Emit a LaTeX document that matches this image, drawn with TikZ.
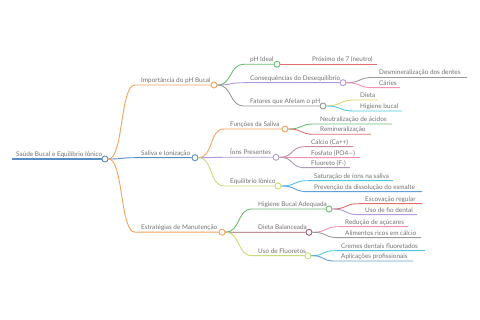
\documentclass[tikz,border=0pt]{standalone}
\usepackage{fontspec}
\setmainfont{Lato}
\definecolor{txtgray}{HTML}{737373}
\definecolor{corange}{HTML}{F4A35E}
\definecolor{cblue}{HTML}{5A8DC6}
\definecolor{cgreen}{HTML}{6DBF6F}
\definecolor{cred}{HTML}{E36F6F}
\definecolor{cpurple}{HTML}{B09AD8}
\definecolor{cgray}{HTML}{9A9A9A}
\definecolor{cpink}{HTML}{F291B4}
\definecolor{cyellow}{HTML}{E4D66C}
\definecolor{ccyan}{HTML}{52C8DE}
\definecolor{cygreen}{HTML}{C7DC7A}
\definecolor{clblue}{HTML}{64A0D8}
\definecolor{cmaroon}{HTML}{A65A68}
\definecolor{cmauve}{HTML}{C98A9E}
\definecolor{cgpurple}{HTML}{A89AB8}
\tikzset{
  lbl/.style={anchor=base west, inner sep=0pt, text=txtgray, font=\fontsize{6.4}{7.5}\selectfont},
  dot/.style={circle, draw=#1, fill=white, line width=0.9pt, minimum size=6pt, inner sep=0pt},
  br/.style={line width=0.9pt, draw=#1},
  cv/.style={to path={.. controls +(15,0) and +(-15,0) .. (\tikztotarget)}},
}
\begin{document}
\begin{tikzpicture}[x=1pt,y=-1pt]
\useasboundingbox[fill=white] (0,0) rectangle (480,320);
% root
\node[lbl] (r) at (16,156.3) {Saúde Bucal e Equilíbrio Iônico};
\coordinate (rs) at (12,159);
\node[dot=cblue] (rc) at (105,159) {};
\draw[br=cblue, line width=1.3pt] (rs) -- (rc.west);
% level 1
\node[lbl] (A) at (141,82.5) {Importância do pH Bucal};
\coordinate (As) at (135,85);
\node[dot=corange] (Ac) at (214,85) {};
\node[lbl] (B) at (141,155.2) {Saliva e Ionização};
\coordinate (Bs) at (135,157.7);
\node[dot=cblue] (Bc) at (195,157.7) {};
\node[lbl] (C) at (141,229.7) {Estratégias de Manutenção};
\coordinate (Cs) at (135,232.2);
\node[dot=corange] (Cc) at (222,232.2) {};
\draw[br=corange] (rc.east) to[cv] (As) -- (Ac.west);
\draw[br=cblue] (rc.east) to[cv] (Bs) -- (Bc.west);
\draw[br=corange] (rc.east) to[cv] (Cs) -- (Cc.west);
% level 2 under A
\node[lbl] (A1) at (250,61.8) {pH Ideal};
\coordinate (A1s) at (244,64.3);
\node[dot=cgreen] (A1c) at (277,64.3) {};
\node[lbl] (A2) at (250,80.2) {Consequências do Desequilíbrio};
\coordinate (A2s) at (244,82.7);
\node[dot=cpurple] (A2c) at (343,82.7) {};
\node[lbl] (A3) at (250,103.5) {Fatores que Afetam o pH};
\coordinate (A3s) at (244,106);
\node[dot=cgray] (A3c) at (323,106) {};
\draw[br=cgreen] (Ac.east) to[cv] (A1s) -- (A1c.west);
\draw[br=cpurple] (Ac.east) to[cv] (A2s) -- (A2c.west);
\draw[br=cgray] (Ac.east) to[cv] (A3s) -- (A3c.west);
% level 3 under A
\node[lbl] (A1a) at (312,61.8) {Próximo de 7 (neutro)};
\coordinate (A1as) at (305,64.3); \coordinate (A1ae) at (377,64.3);
\draw[br=cred] (A1c.east) to[cv] (A1as) -- (A1ae);
\node[lbl] (A2a) at (379,75) {Desmineralização dos dentes};
\coordinate (A2as) at (373,77.5); \coordinate (A2ae) at (467,77.5);
\draw[br=cgray] (A2c.east) to[cv] (A2as) -- (A2ae);
\node[lbl] (A2b) at (379,85.2) {Cáries};
\coordinate (A2bs) at (373,87.7); \coordinate (A2be) at (400,87.7);
\draw[br=cpink] (A2c.east) to[cv] (A2bs) -- (A2be);
\node[lbl] (A3a) at (360,97.5) {Dieta};
\coordinate (A3as) at (354,100); \coordinate (A3ae) at (378,100);
\draw[br=cyellow] (A3c.east) to[cv] (A3as) -- (A3ae);
\node[lbl] (A3b) at (360,108.5) {Higiene bucal};
\coordinate (A3bs) at (354,111); \coordinate (A3be) at (402,111);
\draw[br=ccyan] (A3c.east) to[cv] (A3bs) -- (A3be);
% level 2 under B
\node[lbl] (B1) at (230,126.5) {Funções da Saliva};
\coordinate (B1s) at (224,129);
\node[dot=corange] (B1c) at (285,129) {};
\node[lbl] (B2) at (230,154.8) {Íons Presentes};
\coordinate (B2s) at (224,157.3);
\node[dot=cpurple] (B2c) at (276,157.3) {};
\node[lbl] (B3) at (230,183.5) {Equilíbrio Iônico};
\coordinate (B3s) at (224,186);
\node[dot=cygreen] (B3c) at (278,186) {};
\draw[br=corange] (Bc.east) to[cv] (B1s) -- (B1c.west);
\draw[br=cpurple] (Bc.east) to[cv] (B2s) -- (B2c.west);
\draw[br=cygreen] (Bc.east) to[cv] (B3s) -- (B3c.west);
% level 3 under B
\node[lbl] (B1a) at (320,121.5) {Neutralização de ácidos};
\coordinate (B1as) at (314,124); \coordinate (B1ae) at (392,124);
\draw[br=cgreen] (B1c.east) to[cv] (B1as) -- (B1ae);
\node[lbl] (B1b) at (320,131.8) {Remineralização};
\coordinate (B1bs) at (314,134.3); \coordinate (B1be) at (371,134.3);
\draw[br=cred] (B1c.east) to[cv] (B1bs) -- (B1be);
\node[lbl] (B2a) at (311,144.2) {Cálcio (Ca++)};
\coordinate (B2as) at (305,146.7); \coordinate (B2ae) at (353,146.7);
\draw[br=cmauve] (B2c.east) to[cv] (B2as) -- (B2ae);
\node[lbl] (B2b) at (311,155.2) {Fosfato (PO4---)};
\coordinate (B2bs) at (305,157.7); \coordinate (B2be) at (360,157.7);
\draw[br=cpink] (B2c.east) to[cv] (B2bs) -- (B2be);
\node[lbl] (B2c2) at (311,165.2) {Fluoreto (F-)};
\coordinate (B2cs) at (305,167.7); \coordinate (B2ce) at (350,167.7);
\draw[br=cgpurple] (B2c.east) to[cv] (B2cs) -- (B2ce);
\node[lbl] (B3a) at (314,178.2) {Saturação de íons na saliva};
\coordinate (B3as) at (308,180.7); \coordinate (B3ae) at (393,180.7);
\draw[br=ccyan] (B3c.east) to[cv] (B3as) -- (B3ae);
\node[lbl] (B3b) at (314,189.2) {Prevenção da dissolução do esmalte};
\coordinate (B3bs) at (308,191.7); \coordinate (B3be) at (422,191.7);
\draw[br=clblue] (B3c.east) to[cv] (B3bs) -- (B3be);
% level 2 under C
\node[lbl] (C1) at (258,206.5) {Higiene Bucal Adequada};
\coordinate (C1s) at (252,209);
\node[dot=cgreen] (C1c) at (329,209) {};
\node[lbl] (C2) at (258,229.8) {Dieta Balanceada};
\coordinate (C2s) at (252,232.3);
\node[dot=cmaroon] (C2c) at (309,232.3) {};
\node[lbl] (C3) at (258,253.2) {Uso de Fluoretos};
\coordinate (C3s) at (252,255.7);
\node[dot=cygreen] (C3c) at (308,255.7) {};
\draw[br=cgreen] (Cc.east) to[cv] (C1s) -- (C1c.west);
\draw[br=cmaroon] (Cc.east) to[cv] (C2s) -- (C2c.west);
\draw[br=cygreen] (Cc.east) to[cv] (C3s) -- (C3c.west);
% level 3 under C
\node[lbl] (C1a) at (365,201.2) {Escovação regular};
\coordinate (C1as) at (359,203.7); \coordinate (C1ae) at (422,203.7);
\draw[br=cred] (C1c.east) to[cv] (C1as) -- (C1ae);
\node[lbl] (C1b) at (365,212.2) {Uso de fio dental};
\coordinate (C1bs) at (359,214.7); \coordinate (C1be) at (417,214.7);
\draw[br=cpurple] (C1c.east) to[cv] (C1bs) -- (C1be);
\node[lbl] (C2a) at (345,224.2) {Redução de açúcares};
\coordinate (C2as) at (339,226.7); \coordinate (C2ae) at (408,226.7);
\draw[br=cpink] (C2c.east) to[cv] (C2as) -- (C2ae);
\node[lbl] (C2b) at (345,235.2) {Alimentos ricos em cálcio};
\coordinate (C2bs) at (339,237.7); \coordinate (C2be) at (421,237.7);
\draw[br=cgray] (C2c.east) to[cv] (C2bs) -- (C2be);
\node[lbl] (C3a) at (341,248.2) {Cremes dentais fluoretados};
\coordinate (C3as) at (335,250.7); \coordinate (C3ae) at (425,250.7);
\draw[br=ccyan] (C3c.east) to[cv] (C3as) -- (C3ae);
\node[lbl] (C3b) at (341,258.5) {Aplicações profissionais};
\coordinate (C3bs) at (335,261); \coordinate (C3be) at (413,261);
\draw[br=clblue] (C3c.east) to[cv] (C3bs) -- (C3be);
\end{tikzpicture}
\end{document}
